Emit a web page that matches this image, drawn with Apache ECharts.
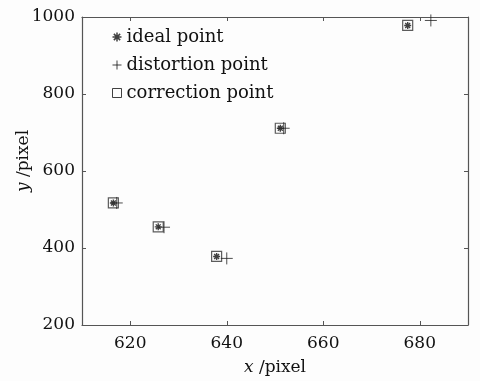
<!DOCTYPE html>
<html><head><meta charset="utf-8">
<script src="https://cdn.jsdelivr.net/npm/echarts@6/dist/echarts.min.js"></script>
<style>html,body{margin:0;padding:0;background:#fdfdfd}#c{width:480px;height:381px}</style>
</head><body><div id="c"></div>
<script>
var seriesNames = ['ideal point', 'distortion point', 'correction point'];
var idealX = [616.5, 625.8, 637.9, 651.1, 677.5];
var idealY = [517, 455, 378, 711, 978];
var distortionX = [617.2, 627.0, 640.0, 651.8, 682.3];
var distortionY = [517, 454, 373, 711, 991];
var correctionX = [616.5, 625.8, 637.9, 651.1, 677.5];
var correctionY = [517, 455, 378, 711, 978];
var xTicks = [620, 640, 660, 680];
var yTicks = [200, 400, 600, 800, 1000];

function pairs(xs, ys){ return xs.map(function(x,i){return [x, ys[i]];}); }

var FONT = 'DejaVu Serif';
var AX = '#555';
var plusPath = 'path://M0,5L10,5M5,0L5,10';
var starPath = 'path://M0,5L10,5M5,0L5,10M1.5,1.5L8.5,8.5M8.5,1.5L1.5,8.5';
function plain(v){ return String(v); }

var chart = echarts.init(document.getElementById('c'), null, {renderer:'canvas'});
var axisCommon = {
  axisLine:{show:true, lineStyle:{color:AX, width:1.2}},
  axisTick:{show:true, inside:true, length:4, lineStyle:{color:AX}},
  splitLine:{show:false}
};
chart.setOption({
  backgroundColor:'#fdfdfd',
  animation:false,
  grid:{left:82, right:12, top:17, bottom:56, containLabel:false, outerBoundsMode:'none'},
  legend:{
    orient:'vertical', left:105, top:23, itemWidth:9, itemHeight:9, itemGap:10,
    textStyle:{fontFamily:FONT, fontSize:18, color:'#111'},
    data:[
      {name:seriesNames[0], icon:starPath, itemStyle:{color:'none', borderColor:'#111', borderWidth:1.5}},
      {name:seriesNames[1], icon:plusPath, itemStyle:{color:'none', borderColor:'#111', borderWidth:1}},
      {name:seriesNames[2], icon:'rect', itemStyle:{color:'none', borderColor:'#111', borderWidth:1}}
    ]
  },
  xAxis:[Object.assign({}, axisCommon, {
    type:'value', min:610, max:690, position:'bottom',
    name:'{i|x} /pixel', nameLocation:'middle', nameGap:34,
    nameTextStyle:{fontFamily:FONT, fontSize:17, color:'#111', rich:{i:{fontFamily:FONT, fontSize:17, fontStyle:'italic', color:'#111'}}},
    axisTick:{show:true, inside:true, length:4, lineStyle:{color:AX}, customValues:xTicks},
    axisLabel:{fontFamily:FONT, fontSize:17, color:'#111', margin:10, customValues:xTicks, formatter:plain}
  }), Object.assign({}, axisCommon, {
    type:'value', min:610, max:690, position:'top',
    axisTick:{show:true, inside:true, length:4, lineStyle:{color:AX}, customValues:xTicks},
    axisLabel:{show:false}
  })],
  yAxis:[Object.assign({}, axisCommon, {
    type:'value', min:200, max:1000, interval:200, position:'left',
    name:'{i|y} /pixel', nameLocation:'middle', nameGap:50, nameRotate:90, nameMoveOverlap:false,
    nameTextStyle:{fontFamily:FONT, fontSize:17, color:'#111', padding:[0,0,0,20], rich:{i:{fontFamily:FONT, fontSize:17, fontStyle:'italic', color:'#111'}}},
    axisLabel:{fontFamily:FONT, fontSize:17, color:'#111', margin:7, customValues:yTicks, formatter:plain}
  }), Object.assign({}, axisCommon, {
    type:'value', min:200, max:1000, interval:200, position:'right',
    axisLabel:{show:false}
  })],
  series:[
    {name:seriesNames[2], type:'scatter', data:pairs(correctionX, correctionY), symbol:'rect', symbolSize:10,
     itemStyle:{color:'none', borderColor:'#333', borderWidth:1.2}, z:2},
    {name:seriesNames[0], type:'scatter', data:pairs(idealX, idealY), symbol:starPath, symbolSize:7,
     itemStyle:{color:'none', borderColor:'#111', borderWidth:1.4}, z:3},
    {name:seriesNames[1], type:'scatter', data:pairs(distortionX, distortionY), symbol:plusPath, symbolSize:12,
     itemStyle:{color:'none', borderColor:'#222', borderWidth:1}, z:4}
  ]
});
</script></body></html>
